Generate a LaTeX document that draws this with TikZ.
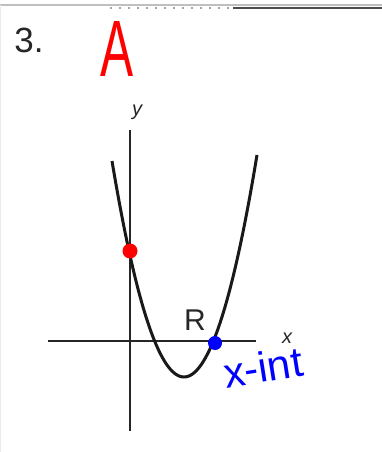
\documentclass[tikz,border=0pt]{standalone}
\usepackage{fontspec}
\setmainfont{Liberation Sans}
\begin{document}
\begin{tikzpicture}[x=1pt,y=-1pt,
  axisline/.style={line width=2.4pt,black!85},
  curve/.style={line width=3pt,black!90},
  dotnode/.style={circle,inner sep=0pt,minimum size=#1},
  printlabel/.style={inner sep=0pt,text=black!85},
  handnote/.style={inner sep=0pt}]
\useasboundingbox (0,0) rectangle (382,452);
\fill[white] (0,0) rectangle (382,452);
% page border remnants
\draw[black!25,line width=1.8pt] (0,5) -- (382,5);
\draw[black!8,line width=0.8pt] (0.5,5) -- (0.5,452);
\draw[black!70,line width=2.6pt] (233,8) -- (382,8);
\draw[black!35,line width=2pt,dash pattern=on 2pt off 7pt] (110,8) -- (233,8);
% labels
\node[printlabel,font=\fontsize{35}{40}\selectfont] (num) at (29,40) {3.};
\node[handnote,text=red,xscale=0.62,font=\fontsize{80}{90}\selectfont] (grade) at (117,49) {A};
% axes
\coordinate (ytop) at (130,130);
\coordinate (ybot) at (130,431);
\coordinate (xleft) at (48,341);
\coordinate (xright) at (256,341);
\draw[axisline] (ybot) -- (ytop);
\draw[axisline] (xleft) -- (xright);
\node[printlabel,font=\fontsize{20}{22}\selectfont\itshape] (ylab) at (137,112) {y};
\node[printlabel,font=\fontsize{20}{22}\selectfont\itshape] (xlab) at (287,338) {x};
% parabola
\draw[curve,smooth] plot[domain=112:257,samples=80] (\x,{377-(\x-184)*(\x-184)/24});
\node[printlabel,font=\fontsize{30}{34}\selectfont] (rlab) at (195,320) {R};
% points
\node[dotnode=15pt,fill=red] (yint) at (130,251) {};
\node[dotnode=14pt,fill=blue] (xint) at (215,343) {};
\node[handnote,text=blue,rotate=9,font=\fontsize{42}{46}\selectfont] (xintlab) at (263,367) {x-int};
\end{tikzpicture}
\end{document}
